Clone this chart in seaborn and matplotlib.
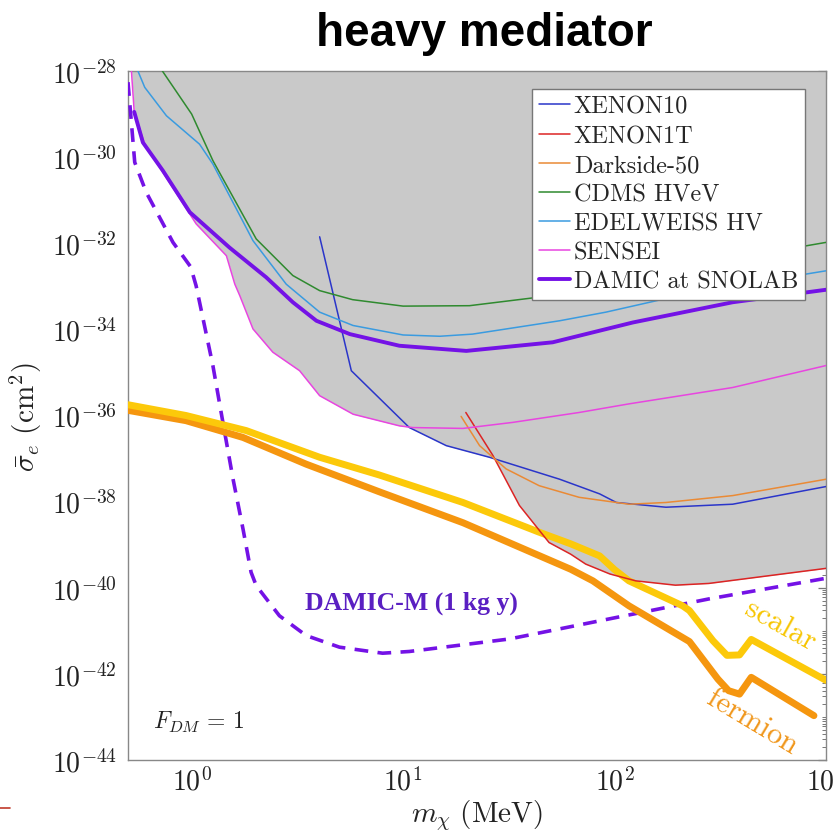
import numpy as np
import pandas as pd
import matplotlib
matplotlib.use("Agg")
import matplotlib.pyplot as plt
import seaborn as sns
from matplotlib.ticker import FixedLocator, FuncFormatter, NullFormatter
from matplotlib.lines import Line2D

# ---------------- data (mass in MeV, log10 of cross-section in cm^2) ----------------
xenon10_m = [4.03, 5.69, 10.7, 16.0, 25.6, 55.0, 85.0, 102, 175, 362, 1000]
xenon10_s = [-31.85, -34.96, -36.28, -36.70, -36.97, -37.48, -37.82, -38.02, -38.13, -38.06, -37.65]

xenon1t_m = [19.8, 26.6, 35.5, 49.0, 62, 73.0, 95, 126, 194, 279, 1000]
xenon1t_s = [-35.93, -36.93, -38.09, -38.95, -39.22, -39.45, -39.68, -39.84, -39.94, -39.90, -39.55]

darkside_m = [18.8, 23.0, 30.7, 44.0, 68.0, 117, 175, 362, 1000]
darkside_s = [-36.02, -36.70, -37.24, -37.63, -37.90, -38.06, -38.02, -37.86, -37.48]

cdms_m = [0.727, 1.0, 1.26, 2.02, 3.01, 4.03, 5.77, 10.0, 20.6, 44.2, 805, 1000]
cdms_s = [-28.0, -29.0, -30.08, -31.90, -32.75, -33.10, -33.31, -33.46, -33.45, -33.25, -32.06, -31.98]

edelweiss_m = [0.557, 0.60, 0.76, 1.09, 1.26, 1.95, 2.8, 4.03, 5.8, 10.0, 14.9, 21.3, 55.0, 91.0, 188, 795, 1000]
edelweiss_s = [-28.0, -28.38, -29.04, -29.70, -30.16, -31.94, -32.95, -33.60, -33.91, -34.13, -34.16, -34.11,
               -33.80, -33.60, -33.25, -32.72, -32.64]

sensei_m = [0.519, 0.535, 0.60, 0.73, 1.05, 1.46, 1.60, 1.69, 1.95, 2.42, 3.24, 4.03, 5.8, 9.6, 11.1, 19.2,
            33.0, 68.0, 117, 362, 1000]
sensei_s = [-28.0, -28.95, -29.70, -30.35, -31.55, -32.29, -32.95, -33.22, -33.99, -34.53, -34.96, -35.54,
            -35.97, -36.24, -36.28, -36.30, -36.16, -35.93, -35.73, -35.35, -34.84]

snolab_m = [0.535, 0.588, 0.73, 0.98, 1.51, 2.25, 3.01, 3.89, 5.6, 9.6, 19.9, 51, 122, 362, 1000]
snolab_s = [-28.95, -29.66, -30.31, -31.28, -32.10, -32.79, -33.37, -33.80, -34.11, -34.38, -34.50, -34.30,
            -33.84, -33.37, -33.08]

damicm_m = [0.5, 0.538, 0.61, 0.816, 0.99, 1.05, 1.26, 1.41, 1.57, 1.75, 1.91, 2.02, 2.6, 3.48, 5.0, 8.0,
            10.7, 31.8, 102, 279, 1000]
damicm_s = [-28.26, -30.12, -30.82, -31.98, -32.55, -32.99, -34.84, -36.20, -37.48, -38.64, -39.64, -39.95,
            -40.65, -41.11, -41.38, -41.52, -41.48, -41.19, -40.69, -40.26, -39.78]

scalar_m = [0.5, 0.94, 1.81, 4.03, 7.7, 19.2, 44, 62, 85, 100, 117, 210, 226, 292, 340, 390, 443, 1000]
scalar_s = [-35.75, -36.0, -36.35, -36.97, -37.38, -38.02, -38.71, -38.98, -39.26, -39.58, -39.84, -40.42,
            -40.53, -41.23, -41.57, -41.56, -41.20, -42.15]

fermion_m = [0.5, 0.94, 1.75, 3.48, 7.7, 19.2, 62, 79, 117, 226, 308, 346, 390, 443, 877]
fermion_s = [-35.88, -36.12, -36.51, -37.13, -37.77, -38.49, -39.57, -39.84, -40.42, -41.25, -42.12, -42.39,
             -42.47, -42.08, -42.97]

experiments = ["XENON10", "XENON1T", "Darkside-50", "CDMS HVeV", "EDELWEISS HV", "SENSEI", "DAMIC at SNOLAB"]
exp_data = [(xenon10_m, xenon10_s), (xenon1t_m, xenon1t_s), (darkside_m, darkside_s), (cdms_m, cdms_s),
            (edelweiss_m, edelweiss_s), (sensei_m, sensei_s), (snolab_m, snolab_s)]
exp_colors = ["#2a35c9", "#dc2424", "#ea8a35", "#2f8a2f", "#3a9be0", "#e845e0", "#7412e6"]
exp_widths = [1.1, 1.1, 1.1, 1.1, 1.1, 1.1, 2.8]

xticks_major = [1, 10, 100, 1000]
yticks_major = [-44, -42, -40, -38, -36, -34, -32, -30, -28]

# ---------------- style ----------------
sns.set_theme(style="white")
plt.rcParams["font.family"] = ["DejaVu Sans"]
plt.rcParams["mathtext.fontset"] = "cm"

W, H = 834, 837
fig = plt.figure(figsize=(W / 100, H / 100), dpi=100)
ax = fig.add_axes([128 / W, 1 - 761 / H, (826 - 128) / W, (761 - 72) / H])
ax.set_xscale("log")
ax.set_yscale("log")
ax.set_xlim(0.5, 1000)
ax.set_ylim(1e-44, 1e-28)

# ---------------- excluded region (lower envelope of all limits) ----------------
grid = np.logspace(np.log10(0.5), 3, 3000)
lg = np.log10(grid)
curves = []
for m, s in exp_data:
    lm = np.log10(np.array(m))
    curves.append(np.interp(lg, lm, np.array(s), left=np.nan, right=np.nan))
env = np.nanmin(np.vstack(curves), axis=0)
ok = np.isfinite(env)
ax.fill_between(grid[ok], 10 ** env[ok], 1e-28, color="#c9c9c9", lw=0, zorder=1)

# ---------------- DAMIC-M projection ----------------
sns.lineplot(x=damicm_m, y=10 ** np.array(damicm_s), ax=ax, color="#7412e6", lw=2.6,
             sort=False, estimator=None, zorder=3)
ax.lines[-1].set_dashes((3.8, 2.6))

# ---------------- scalar / fermion ----------------
sns.lineplot(x=fermion_m, y=10 ** np.array(fermion_s), ax=ax, color="#f5960f", lw=5.0,
             sort=False, estimator=None, zorder=4)
sns.lineplot(x=scalar_m, y=10 ** np.array(scalar_s), ax=ax, color="#fcc90a", lw=5.0,
             sort=False, estimator=None, zorder=4)

# ---------------- experiments ----------------
for name, (m, s), c, w in zip(experiments, exp_data, exp_colors, exp_widths):
    sns.lineplot(x=m, y=10 ** np.array(s), ax=ax, color=c, lw=w, sort=False, estimator=None,
                 label=name, zorder=5)

handles, labels = ax.get_legend_handles_labels()
leg = ax.legend(handles, labels, loc="upper right", bbox_to_anchor=(0.970, 0.974), borderaxespad=0,
                prop={"family": "cmr10", "size": 17.5}, handlelength=1.3, handletextpad=0.15,
                borderpad=0.28, labelspacing=0.29, frameon=True, fancybox=False, framealpha=1)
leg.get_frame().set_edgecolor("#777777")
leg.get_frame().set_linewidth(1.0)
leg.set_zorder(10)

# ---------------- ticks ----------------
ax.xaxis.set_major_locator(FixedLocator(xticks_major))
ax.xaxis.set_major_formatter(FuncFormatter(lambda v, p: r"$10^{%d}$" % round(np.log10(v))))
xminor = [a * 10.0 ** e for e in range(-1, 3) for a in range(2, 10)]
ax.xaxis.set_minor_locator(FixedLocator(xminor))
ax.xaxis.set_minor_formatter(NullFormatter())

ax.yaxis.set_major_locator(FixedLocator([10.0 ** e for e in yticks_major]))
ax.yaxis.set_major_formatter(FuncFormatter(lambda v, p: r"$10^{%d}$" % round(np.log10(v))))
yminor = [a * 10.0 ** e for e in range(-44, -28) for a in range(1, 10)]
ax.yaxis.set_minor_locator(FixedLocator(yminor))
ax.yaxis.set_minor_formatter(NullFormatter())

ax.tick_params(which="both", direction="in", top=True, right=True, colors="#777777", labelcolor="#222222")
ax.tick_params(which="major", length=6, width=0.9, labelsize=20)
ax.tick_params(axis="y", which="major", pad=8)
ax.tick_params(axis="x", which="major", pad=5)
ax.tick_params(which="minor", length=3, width=0.7)
for sp in ax.spines.values():
    sp.set_color("#888888")
    sp.set_linewidth(1.0)
ax.grid(False)

ax.set_xlabel(r"$m_\chi\ (\mathrm{MeV})$", fontsize=21, color="#222222", labelpad=1)
ax.set_ylabel(r"$\bar{\sigma}_e\ (\mathrm{cm}^2)$", fontsize=21, color="#222222", labelpad=6)

# ---------------- annotations ----------------
ax.text(3.42, 10 ** -40.49, "DAMIC-M (1 kg y)", color="#5a1fc2", fontsize=18.5, fontweight="bold",
        family="Liberation Serif", ha="left", va="baseline", zorder=6)
ax.text(0.654, 10 ** -43.26, r"$F_{DM}\,=\,1$", color="#222222", fontsize=17, ha="left", va="baseline")
ax.text(610, 10 ** -40.85, "scalar", color="#f7c500", fontsize=22, family="cmr10", rotation=-29,
        ha="center", va="center", rotation_mode="anchor", zorder=6)
ax.text(450, 10 ** -43.1, "fermion", color="#f0961a", fontsize=22, family="cmr10", rotation=-31,
        ha="center", va="center", rotation_mode="anchor", zorder=6)

fig.text(484 / W, 1 - 46 / H, "heavy mediator", ha="center", va="baseline", fontsize=33,
         fontweight="bold", family="Liberation Sans", color="black")

fig.add_artist(Line2D([0, 10 / W], [1 - 809 / H, 1 - 809 / H], color="#c0392b", lw=1.2,
                      transform=fig.transFigure))

fig.savefig("out.png", dpi=100)
